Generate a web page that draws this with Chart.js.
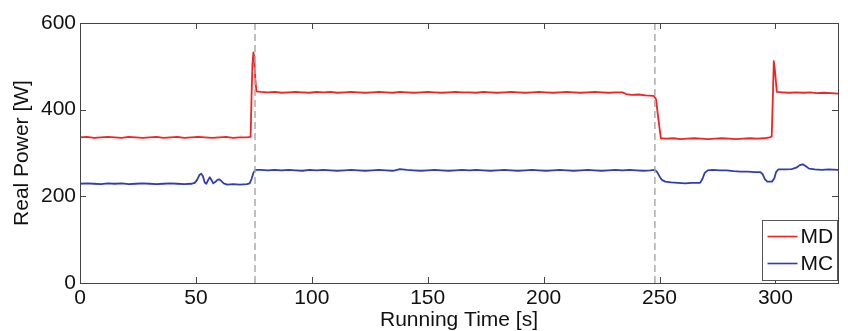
<!DOCTYPE html>
<html>
<head>
<meta charset="utf-8">
<script src="https://cdn.jsdelivr.net/npm/chart.js@4/dist/chart.umd.min.js"></script>
<style>
    html, body { margin: 0; padding: 0; background: #fff; }
    #wrap { width: 848px; height: 331px; }
</style>
</head>
<body>
<div id="wrap"><canvas id="power-chart" width="848" height="331"></canvas></div>
<script>
// Real power traces (time in s, power in W)
const mdTime = [0, 3, 6, 9, 12, 15, 18, 21, 24, 27, 30, 33, 36, 39, 42, 45, 48, 51, 54, 57, 60, 63, 66, 69, 72,
    73.6, 74.0, 74.4, 74.8, 75.2, 75.6, 76.1,
    78, 81, 84, 87, 90, 93, 96, 99, 102, 105, 108, 111, 114, 117, 120, 123, 126, 129, 132, 135, 138, 141, 144,
    147, 150, 153, 156, 159, 162, 165, 168, 171, 174, 177, 180, 183, 186, 189, 192, 195, 198, 201, 204, 207,
    210, 213, 216, 219, 222, 225, 228, 231, 234,
    235.5, 238, 241, 244, 247.5, 248.5, 249.5, 250.6,
    253, 256, 259, 262, 265, 268, 271, 274, 277, 280, 283, 286, 289, 292, 295, 297.5,
    298.4, 298.9, 299.3, 299.8, 300.6,
    303, 306, 309, 312, 315, 318, 321, 324, 327];
const mdPower = [336, 337, 335, 336, 337, 336, 335, 337, 336, 335, 336, 337, 335, 336, 337, 335, 336, 337, 336, 335, 336, 337, 335, 336, 336,
    337, 430, 505, 532, 520, 472, 442,
    441, 440, 441, 439, 440, 441, 440, 439, 441, 440, 441, 439, 440, 441, 440, 439, 440, 441, 440, 439, 441, 440, 439,
    440, 441, 440, 439, 440, 441, 440, 440, 439, 441, 440, 439, 440, 441, 440, 439, 440, 441, 440, 439, 440,
    441, 440, 439, 440, 441, 440, 439, 440, 440,
    436, 434, 435, 433, 432, 424, 378, 334,
    333, 334, 332, 333, 334, 333, 332, 333, 334, 333, 332, 333, 334, 333, 334, 336,
    338, 430, 512, 490, 441,
    440, 439, 440, 439, 440, 438, 439, 438, 437];

const mcTime = [0, 3, 6, 9, 12, 15, 18, 21, 24, 27, 30, 33, 36, 39, 42, 45, 48,
    49.5, 50.5, 51.5, 52.3, 53, 53.8, 54.5, 55.3, 56, 56.8, 57.5, 58.3, 59.3, 60.2, 61, 62, 63.5, 66, 69, 72,
    73.2, 74, 74.8, 75.6,
    78, 81, 84, 87, 90, 93, 96, 99, 102, 105, 108, 111, 114, 117, 120, 123, 126, 129, 132, 135, 138, 141, 144,
    147, 150, 153, 156, 159, 162, 165, 168, 171, 174, 177, 180, 183, 186, 189, 192, 195, 198, 201, 204, 207,
    210, 213, 216, 219, 222, 225, 228, 231, 234, 237, 240, 243, 246, 248,
    249, 250, 251, 252.5, 255, 258, 261, 264, 267.5, 268.5, 269.5, 270.8,
    273, 276, 279, 282, 285, 288, 291, 293.5, 294.5, 295.5, 296.5, 298.5, 299.5, 300.3, 301.2,
    304, 307, 309, 310.5, 311.8, 313, 314.5, 317, 320, 323, 327];
const mcPower = [229, 230, 229, 228, 230, 229, 230, 228, 229, 230, 229, 228, 229, 230, 229, 228, 229,
    231, 238, 249, 252, 247, 232, 229, 238, 244, 237, 230, 233, 238, 239, 235, 230, 227, 228, 227, 228,
    230, 240, 254, 261,
    261, 260, 261, 260, 261, 260, 259, 261, 260, 261, 260, 259, 260, 261, 260, 259, 260, 261, 260, 259, 263, 261, 260,
    259, 260, 261, 260, 259, 260, 261, 260, 261, 260, 259, 260, 261, 260, 259, 260, 261, 260, 259, 260, 261,
    260, 259, 260, 261, 260, 259, 260, 261, 260, 261, 260, 259, 260, 261,
    256, 246, 238, 234, 232, 231, 230, 231, 231, 240, 254, 260,
    261, 260, 260, 258, 257, 257, 256, 256, 251, 239, 234, 234, 241, 256, 262,
    262, 263, 266, 272, 274, 270, 264, 262, 261, 262, 261];

// Event markers (dashed vertical lines)
const markerTimes = [75.5, 248];

const seriesLabels = ['MD', 'MC'];
const seriesColors = ['rgb(240, 36, 36)', 'rgb(46, 62, 178)'];

const xTicks = [0, 50, 100, 150, 200, 250, 300];
const yTicks = [0, 200, 400, 600];

const FONT = "'Liberation Sans', Arial, Helvetica, sans-serif";

const toPoints = (xs, ys) => xs.map((x, i) => ({ x: x, y: ys[i] }));

const datasets = [
    {
        label: seriesLabels[0],
        data: toPoints(mdTime, mdPower),
        borderColor: seriesColors[0],
        borderWidth: 1.8,
        borderJoinStyle: 'round',
        pointRadius: 0,
        tension: 0,
        order: 2
    },
    {
        label: seriesLabels[1],
        data: toPoints(mcTime, mcPower),
        borderColor: seriesColors[1],
        borderWidth: 1.8,
        borderJoinStyle: 'round',
        pointRadius: 0,
        tension: 0,
        order: 3
    }
];

markerTimes.forEach(t => {
    datasets.push({
        label: '',
        data: [{ x: t, y: yTicks[0] }, { x: t, y: yTicks[yTicks.length - 1] }],
        borderColor: 'rgb(170, 170, 170)',
        borderWidth: 1.5,
        borderDash: [7, 4],
        pointRadius: 0,
        order: 1
    });
});

// MATLAB style box with inward ticks and an inset legend
const matlabFrame = {
    id: 'matlabFrame',
    afterDatasetsDraw(chart) {
        const { ctx, chartArea: a, scales } = chart;
        const len = 6;
        ctx.save();
        ctx.strokeStyle = '#444';
        ctx.lineWidth = 1;
        ctx.beginPath();
        xTicks.forEach(v => {
            const px = Math.round(scales.x.getPixelForValue(v)) + 0.5;
            ctx.moveTo(px, a.bottom); ctx.lineTo(px, a.bottom - len);
            ctx.moveTo(px, a.top); ctx.lineTo(px, a.top + len);
        });
        yTicks.forEach(v => {
            const py = Math.round(scales.y.getPixelForValue(v)) + 0.5;
            ctx.moveTo(a.left, py); ctx.lineTo(a.left + len, py);
            ctx.moveTo(a.right, py); ctx.lineTo(a.right - len, py);
        });
        ctx.stroke();
        ctx.strokeRect(Math.round(a.left) + 0.5, Math.round(a.top) + 0.5,
            Math.round(a.right - a.left), Math.round(a.bottom - a.top));

        // legend
        const bw = 75, bh = 60;
        const bx = Math.round(a.right) - bw - 1 + 0.5;
        const by = Math.round(a.bottom) - bh - 3 + 0.5;
        ctx.fillStyle = '#fff';
        ctx.fillRect(bx, by, bw, bh);
        ctx.strokeStyle = '#555';
        ctx.strokeRect(bx, by, bw, bh);
        ctx.font = '21px ' + FONT;
        ctx.textBaseline = 'middle';
        ctx.textAlign = 'left';
        seriesLabels.forEach((lab, i) => {
            const ry = by + 16 + i * 27;
            ctx.strokeStyle = seriesColors[i];
            ctx.lineWidth = 1.6;
            ctx.beginPath();
            ctx.moveTo(bx + 5, ry); ctx.lineTo(bx + 35, ry);
            ctx.stroke();
            ctx.fillStyle = '#111';
            ctx.fillText(lab, bx + 38, ry + 1);
        });
        ctx.restore();
    }
};

const ctx = document.getElementById('power-chart').getContext('2d');
new Chart(ctx, {
    type: 'line',
    data: { datasets: datasets },
    options: {
        responsive: false,
        animation: false,
        layout: { padding: { left: 0, right: 10, top: 23, bottom: 0 } },
        plugins: {
            legend: { display: false },
            tooltip: { enabled: false }
        },
        scales: {
            x: {
                type: 'linear',
                min: 0,
                max: 327,
                grid: { display: false, drawTicks: false },
                border: { display: false },
                afterBuildTicks: scale => { scale.ticks = xTicks.map(v => ({ value: v })); },
                afterFit: scale => { scale.height = 48; },
                ticks: {
                    includeBounds: false,
                    maxRotation: 0,
                    padding: 3,
                    color: '#111',
                    font: { family: FONT, size: 21 }
                },
                title: {
                    display: true,
                    text: 'Running Time [s]',
                    color: '#111',
                    font: { family: FONT, size: 21, lineHeight: 1 },
                    padding: { top: 0, bottom: 0 }
                }
            },
            y: {
                min: 0,
                max: 600,
                grid: { display: false, drawTicks: false },
                border: { display: false },
                afterBuildTicks: scale => { scale.ticks = yTicks.map(v => ({ value: v })); },
                afterFit: scale => { scale.width = 80; },
                ticks: {
                    padding: 4,
                    color: '#111',
                    font: { family: FONT, size: 21 }
                },
                title: {
                    display: true,
                    text: 'Real Power [W]',
                    color: '#111',
                    font: { family: FONT, size: 21, lineHeight: 1.2 },
                    padding: { top: 10, bottom: 0 }
                }
            }
        }
    },
    plugins: [matlabFrame]
});
</script>
</body>
</html>
